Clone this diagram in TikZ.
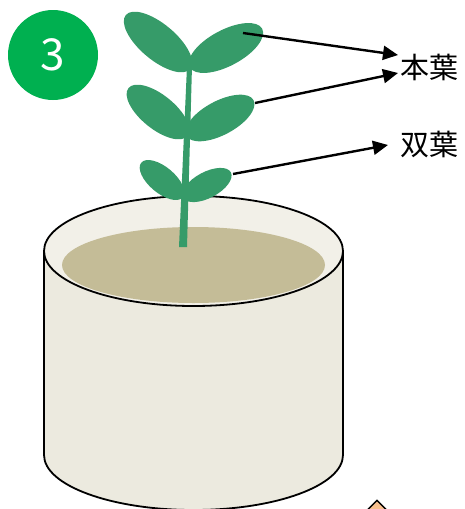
\documentclass[tikz,border=0pt]{standalone}
\usepackage{fontspec}
\newfontfamily\jp{Noto Sans CJK JP}
\usetikzlibrary{arrows.meta,shapes.geometric}
\definecolor{badge}{HTML}{00B050}
\definecolor{leaf}{HTML}{369B69}
\definecolor{potbody}{HTML}{ECEADF}
\definecolor{potrim}{HTML}{F2F0E8}
\definecolor{soil}{HTML}{C4BC97}
\definecolor{peach}{HTML}{F8C08E}
\tikzset{
  leafshape/.style={fill=leaf},
  pointer/.style={line width=2.4pt,-{Triangle[length=15pt,width=14pt]}},
  tag/.style={font=\jp\fontsize{29}{29}\selectfont,inner sep=0pt,anchor=west},
  potline/.style={draw=black,line width=1.8pt}
}
\begin{document}
\begin{tikzpicture}[x=1pt,y=-1pt]
\useasboundingbox (0,0) rectangle (465,509);
\begin{scope}
\clip (0,0) rectangle (465,509);
% step badge
\node[circle,fill=badge,minimum size=90pt,inner sep=0pt,text=white,
      font=\jp\fontsize{44}{44}\selectfont] (badge) at (53,55) {3};

% pot body and rim
\draw[potline,fill=potbody] (44,251) -- (44,455)
  arc[start angle=180,end angle=360,x radius=149.5pt,y radius=55pt]
  -- (343,251);
\draw[potline,fill=potrim] (193.5,251) ellipse[x radius=149.5pt,y radius=55pt];
\fill[soil] (193.5,265) ellipse[x radius=131.5pt,y radius=38pt];

% stem
\fill[leaf] (179,247) -- (187,247) -- (192,66) -- (187,66) -- cycle;

% leaves, lowest pair first
\fill[leafshape,rotate around={-40:(162,180)}] (162,180) ellipse[x radius=27pt,y radius=13pt];
\fill[leafshape,rotate around={28:(207,185)}] (207,185) ellipse[x radius=27pt,y radius=13pt];
\fill[leafshape,rotate around={-39:(158,112)}] (158,112) ellipse[x radius=38pt,y radius=17pt];
\fill[leafshape,rotate around={28:(220,118)}] (220,118) ellipse[x radius=38pt,y radius=17pt];
\fill[leafshape,rotate around={-40:(158,42)}] (158,42) ellipse[x radius=42pt,y radius=18pt];
\fill[leafshape,rotate around={28:(226,48)}] (226,48) ellipse[x radius=41pt,y radius=18pt];

% labels
\node[tag] (hon) at (400,67) {本葉};
\node[tag] (futa) at (400,145) {双葉};

% pointer ends
\coordinate (topleaf) at (243,33);
\coordinate (midleaf) at (255,103);
\coordinate (lowleaf) at (233,174);
\coordinate (honA) at (398,55);
\coordinate (honB) at (398,73);
\coordinate (futaA) at (388,145);
\draw[pointer] (topleaf) -- (honA);
\draw[pointer] (midleaf) -- (honB);
\draw[pointer] (lowleaf) -- (futaA);

% marker at the lower edge
\node[diamond,draw=black,fill=peach,line width=1.4pt,minimum size=26pt,inner sep=0pt] (mark) at (377,513) {};
\end{scope}
\end{tikzpicture}
\end{document}
